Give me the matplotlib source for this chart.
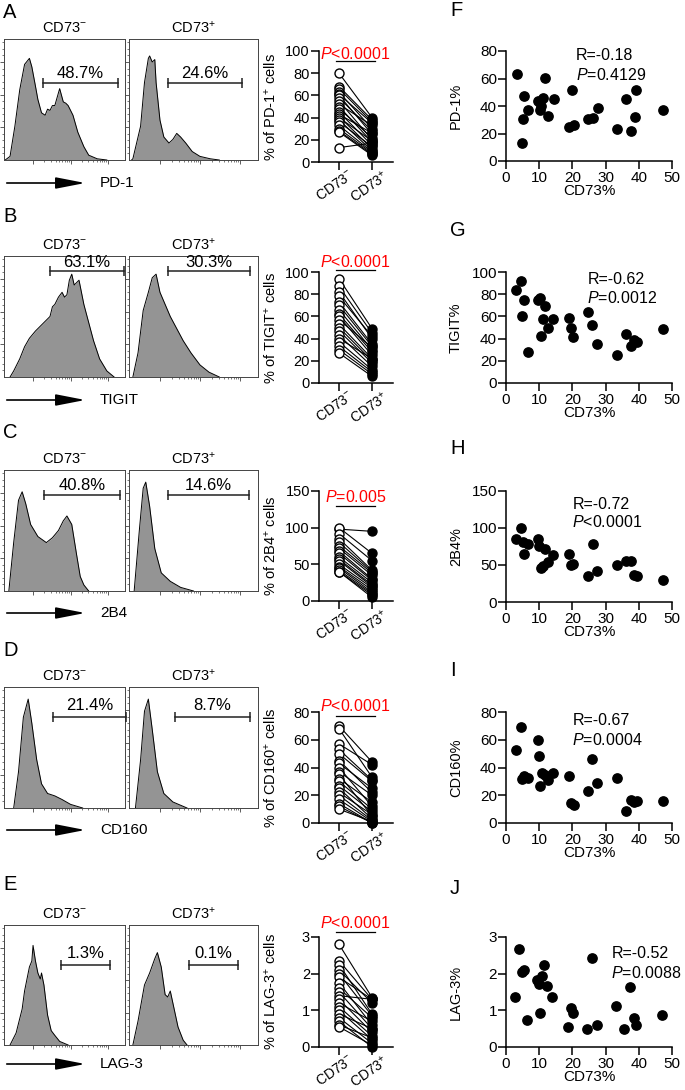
import numpy as np
import matplotlib
matplotlib.use('Agg')
import matplotlib.pyplot as plt
from matplotlib.lines import Line2D
from matplotlib.patches import FancyArrowPatch
from matplotlib.transforms import ScaledTranslation

plt.rcParams['font.family'] = ['Liberation Sans', 'DejaVu Sans']
plt.rcParams['mathtext.fontset'] = 'custom'
plt.rcParams['mathtext.rm'] = 'Liberation Sans'
plt.rcParams['mathtext.it'] = 'Liberation Sans:italic'
plt.rcParams['mathtext.bf'] = 'Liberation Sans:bold'

# ---- data ----
markers = ['PD-1', 'TIGIT', '2B4', 'CD160', 'LAG-3']
left_letters = ['A', 'B', 'C', 'D', 'E']
right_letters = ['F', 'G', 'H', 'I', 'J']
pct_neg = ['48.7%', '63.1%', '40.8%', '21.4%', '1.3%']
pct_pos = ['24.6%', '30.3%', '14.6%', '8.7%', '0.1%']
p_paired = ['<0.0001', '<0.0001', '=0.005', '<0.0001', '<0.0001']
r_vals = ['-0.18', '-0.62', '-0.72', '-0.67', '-0.52']
p_corr = ['=0.4129', '=0.0012', '<0.0001', '=0.0004', '=0.0088']

# histogram outlines (x, height) as fraction of the box
hist_pd1_neg = [(0.01, 0), (0.05, 0.03), (0.09, 0.28), (0.13, 0.58), (0.17, 0.79), (0.21, 0.84),
                (0.23, 0.77), (0.26, 0.61), (0.28, 0.50), (0.31, 0.39), (0.34, 0.37), (0.36, 0.42),
                (0.38, 0.41), (0.40, 0.45), (0.42, 0.45), (0.44, 0.52), (0.46, 0.59), (0.49, 0.48),
                (0.51, 0.47), (0.53, 0.45), (0.57, 0.37), (0.61, 0.23), (0.66, 0.11), (0.70, 0.04),
                (0.77, 0.01), (0.85, 0)]
hist_pd1_pos = [(0.02, 0), (0.03, 0.01), (0.09, 0.28), (0.12, 0.64), (0.15, 0.84), (0.16, 0.86),
                (0.18, 0.81), (0.20, 0.83), (0.21, 0.64), (0.24, 0.33), (0.27, 0.19), (0.31, 0.14),
                (0.34, 0.17), (0.37, 0.22), (0.40, 0.19), (0.44, 0.14), (0.49, 0.07), (0.55, 0.03),
                (0.63, 0.01), (0.70, 0)]
hist_tigit_neg = [(0.05, 0), (0.08, 0.05), (0.13, 0.15), (0.17, 0.25), (0.21, 0.32), (0.26, 0.38),
                  (0.30, 0.42), (0.34, 0.46), (0.38, 0.50), (0.40, 0.58), (0.42, 0.60), (0.45, 0.66),
                  (0.48, 0.70), (0.50, 0.66), (0.52, 0.68), (0.54, 0.80), (0.56, 0.85), (0.58, 0.76),
                  (0.60, 0.78), (0.62, 0.80), (0.64, 0.70), (0.66, 0.60), (0.70, 0.45), (0.74, 0.30),
                  (0.79, 0.15), (0.85, 0.05), (0.91, 0)]
hist_tigit_pos = [(0.03, 0), (0.07, 0.20), (0.11, 0.55), (0.15, 0.70), (0.18, 0.82), (0.21, 0.85),
                  (0.24, 0.70), (0.28, 0.60), (0.32, 0.50), (0.36, 0.42), (0.42, 0.30), (0.48, 0.20),
                  (0.55, 0.10), (0.62, 0.04), (0.70, 0)]
hist_2b4_neg = [(0.04, 0), (0.08, 0.40), (0.12, 0.75), (0.15, 0.82), (0.18, 0.72), (0.22, 0.55),
                (0.28, 0.45), (0.35, 0.40), (0.40, 0.44), (0.45, 0.50), (0.49, 0.58), (0.52, 0.62),
                (0.56, 0.55), (0.60, 0.30), (0.63, 0.12), (0.66, 0.05), (0.70, 0)]
hist_2b4_pos = [(0.04, 0), (0.08, 0.50), (0.11, 0.85), (0.13, 0.90), (0.16, 0.70), (0.20, 0.35),
                (0.25, 0.15), (0.32, 0.08), (0.40, 0.03), (0.50, 0)]
hist_cd160_neg = [(0.08, 0), (0.12, 0.30), (0.16, 0.75), (0.20, 0.90), (0.23, 0.70), (0.27, 0.40),
                  (0.31, 0.20), (0.36, 0.12), (0.42, 0.10), (0.48, 0.07), (0.55, 0.03), (0.65, 0)]
hist_cd160_pos = [(0.05, 0), (0.09, 0.40), (0.12, 0.80), (0.15, 0.90), (0.18, 0.65), (0.22, 0.30),
                  (0.27, 0.12), (0.34, 0.05), (0.45, 0)]
hist_lag3_neg = [(0.05, 0), (0.10, 0.10), (0.15, 0.30), (0.17, 0.45), (0.21, 0.65), (0.23, 0.70),
                 (0.24, 0.83), (0.26, 0.70), (0.28, 0.60), (0.30, 0.55), (0.31, 0.60), (0.33, 0.50),
                 (0.36, 0.25), (0.39, 0.12), (0.42, 0.08), (0.46, 0.03), (0.53, 0)]
hist_lag3_pos = [(0.03, 0), (0.07, 0.20), (0.12, 0.50), (0.16, 0.60), (0.20, 0.72), (0.22, 0.77),
                 (0.25, 0.65), (0.28, 0.42), (0.30, 0.40), (0.32, 0.45), (0.34, 0.35), (0.38, 0.15),
                 (0.42, 0.04), (0.45, 0)]

# paired CD73- / CD73+ values
pd1_neg = [80, 68, 66, 63, 61, 60, 58, 55, 52, 50, 48, 45, 43, 41, 40, 38, 36, 33, 30, 28, 27, 13]
pd1_pos = [40, 38, 36, 30, 35, 25, 28, 20, 33, 18, 22, 15, 26, 12, 19, 10, 14, 9, 8, 7, 6, 17]
tigit_neg = [94, 87, 82, 78, 73, 70, 66, 62, 60, 57, 53, 50, 47, 43, 40, 37, 33, 30, 27]
tigit_pos = [49, 45, 40, 42, 35, 33, 30, 28, 25, 32, 22, 20, 18, 15, 22, 12, 10, 8, 6]
b24_neg = [98, 100, 92, 85, 80, 75, 72, 68, 65, 60, 57, 55, 50, 47, 45, 42, 40, 40]
b24_pos = [95, 65, 55, 42, 40, 38, 35, 30, 28, 25, 22, 20, 18, 15, 12, 10, 8, 5]
cd160_neg = [70, 68, 57, 53, 50, 45, 43, 40, 37, 35, 32, 30, 27, 25, 22, 20, 17, 14, 12, 10]
cd160_pos = [44, 33, 42, 31, 30, 22, 25, 12, 20, 5, 15, 10, 8, 3, 6, 2, 1, 0, 0, 1]
lag3_neg = [2.8, 2.35, 2.25, 2.1, 2.0, 1.9, 1.75, 1.6, 1.5, 1.4, 1.3, 1.2, 1.1, 1.0, 0.9, 0.8, 0.7, 0.6, 0.55]
lag3_pos = [1.35, 1.3, 0.9, 1.2, 0.85, 1.3, 0.6, 0.8, 0.5, 1.3, 0.4, 0.7, 0.3, 0.2, 0.5, 0.1, 0.0, 0.25, 0.05]

# correlation with CD73%
pd1_x = [3.2, 4.7, 5.0, 5.5, 6.7, 9.7, 10.2, 10.4, 11.2, 11.7, 12.7, 14.4, 18.9, 19.9, 20.4, 24.7,
         26.3, 27.6, 33.5, 36.1, 37.6, 38.8, 39.3, 47.3]
pd1_y = [63, 13, 30.6, 47, 37, 44, 37, 40, 46, 60.5, 33, 45, 24.6, 51.6, 26, 30.6, 31.6, 38.3, 23,
         45, 22, 32.3, 51.6, 37]
tigit_x = [3.0, 4.4, 5.4, 4.9, 6.5, 9.7, 10.2, 10.4, 11.0, 11.7, 12.7, 14.2, 18.9, 19.7, 20.2, 24.7,
           26.0, 27.5, 33.3, 36.0, 37.5, 38.5, 39.5, 47.3]
tigit_y = [84, 92, 74.5, 60, 27.6, 74.5, 76.6, 42.6, 57.7, 69, 49.5, 57.7, 58.6, 49.5, 41.4, 64,
           52.6, 35, 25.5, 44.4, 33, 38.4, 36.6, 49]
b24_x = [3.0, 4.4, 5.0, 5.4, 6.7, 9.7, 10.0, 10.4, 11.2, 11.7, 12.7, 14.2, 18.9, 19.7, 20.2, 24.7,
         26.3, 27.5, 33.3, 36.0, 37.5, 38.5, 39.5, 47.3]
b24_y = [85, 100, 81, 65.5, 79, 84.5, 75.5, 46.5, 48.4, 71.4, 54, 64, 65.5, 49.7, 52, 35.2, 79,
         41.6, 49.7, 55.6, 55.6, 36, 35.2, 29.4]
cd160_x = [3.0, 4.4, 4.7, 5.5, 6.7, 9.7, 10.0, 10.2, 10.9, 11.7, 12.7, 14.2, 18.9, 19.7, 20.4, 24.7,
           26.0, 27.5, 33.3, 36.0, 37.5, 38.5, 39.5, 47.3]
cd160_y = [52.9, 69.2, 32, 33.9, 32.7, 59.6, 48, 26.7, 36.3, 34.4, 31.2, 36.3, 33.6, 14.4, 12.7, 23,
           46.4, 28.8, 32.4, 8.6, 16.3, 15.1, 15.9, 15.6]
lag3_x = [2.7, 4.0, 4.7, 5.4, 6.4, 9.4, 9.9, 10.2, 10.7, 11.4, 12.4, 14.0, 18.7, 19.5, 20.2, 24.4,
          26.0, 27.3, 33.1, 35.6, 37.3, 38.5, 39.1, 47.0]
lag3_y = [1.36, 2.67, 2.05, 2.10, 0.74, 1.83, 1.72, 0.92, 1.94, 2.23, 1.67, 1.36, 0.54, 1.06, 0.94,
          0.49, 2.43, 0.59, 1.12, 0.49, 1.63, 0.79, 0.59, 0.86]

hists = [(hist_pd1_neg, hist_pd1_pos), (hist_tigit_neg, hist_tigit_pos), (hist_2b4_neg, hist_2b4_pos),
         (hist_cd160_neg, hist_cd160_pos), (hist_lag3_neg, hist_lag3_pos)]
paired = [(pd1_neg, pd1_pos), (tigit_neg, tigit_pos), (b24_neg, b24_pos),
          (cd160_neg, cd160_pos), (lag3_neg, lag3_pos)]
scatters = [(pd1_x, pd1_y), (tigit_x, tigit_y), (b24_x, b24_y), (cd160_x, cd160_y), (lag3_x, lag3_y)]
y_ticks = [[0, 20, 40, 60, 80, 100], [0, 20, 40, 60, 80, 100], [0, 50, 100, 150],
           [0, 20, 40, 60, 80], [0, 1, 2, 3]]
scatter_ticks = [[0, 20, 40, 60, 80], [0, 20, 40, 60, 80, 100], [0, 50, 100, 150],
                 [0, 20, 40, 60, 80], [0, 1, 2, 3]]

# ---- layout (pixels, top origin) ----
W, H = 685, 1090
hist_top = [39, 256, 470, 687, 925]
hist_bot = [160, 377, 591, 808, 1045]
pair_top = [51, 272, 491, 712, 937]
pair_bot = [162, 383, 601, 823, 1047]
scat_top = [51, 272, 491, 712, 937]
scat_bot = [161, 383, 602, 823, 1047]
xlab_gap = 23
arrow_y = [183, 400, 613, 830, 1064]
letter_yl = [13, 217, 433, 650, 885]
letter_yr = [11, 230, 448, 670, 888]
pct_y = [73, 262, 485, 705, 953]
bar_y = [83, 271, 495, 717, 965]
neg_bar = [(43, 118), (50, 124), (44, 120), (53, 126), (61, 110)]
pos_bar = [(168, 242), (168, 250), (168, 249), (175, 250), (189, 238)]
line_fr = [0.91, 1.015, 0.864, 0.964, 1.048]
ptxt_fr = [0.977, 1.093, 0.948, 1.054, 1.125]
rtxt_x = [0.42, 0.49, 0.40, 0.40, 0.635]
rtxt_y = [(0.96, 0.78), (0.93, 0.77), (0.88, 0.72), (0.925, 0.75), (0.85, 0.67)]


def fx(px):
    return px / W


def fy(py):
    return 1 - py / H


fig = plt.figure(figsize=(6.85, 10.9), dpi=100)


def add_ax(l, t, r, b):
    return fig.add_axes([fx(l), fy(b), (r - l) / W, (b - t) / H])


def prism_axes(ax, size):
    for s in ['top', 'right']:
        ax.spines[s].set_visible(False)
    for s in ['left', 'bottom']:
        ax.spines[s].set_linewidth(1.1)
    ax.tick_params(direction='out', length=5.5, width=1.1, labelsize=size, pad=1)


minor_x = []
for dec in [0.24, 0.55]:
    minor_x += [dec + 0.31 * np.log10(k) for k in range(2, 10)]

for i in range(5):
    # histograms
    boxes = [(4, 125), (129, 258)]
    for j, (l, r) in enumerate(boxes):
        ax = add_ax(l, hist_top[i], r, hist_bot[i])
        pts = np.array(hists[i][j])
        ax.fill_between(pts[:, 0], pts[:, 1], color='#949494', lw=0)
        ax.plot(pts[:, 0], pts[:, 1], color='k', lw=0.7)
        ax.set_xlim(0, 1)
        ax.set_ylim(0, 1)
        for s in ax.spines.values():
            s.set_linewidth(0.7)
            s.set_color('#444444')
        ax.set_yticks([0.27, 0.54, 0.81])
        ax.set_yticks(np.arange(0.054, 1, 0.054), minor=True)
        ax.set_xticks([0.24, 0.55, 0.86])
        ax.set_xticks(minor_x, minor=True)
        ax.tick_params(which='major', direction='out', length=3, width=0.6, color='#444444',
                       labelleft=False, labelbottom=False)
        ax.tick_params(which='minor', direction='out', length=1.5, width=0.5, color='#444444')
        title = 'CD73$^{-}$' if j == 0 else 'CD73$^{+}$'
        fig.text(fx((l + r) / 2), fy(hist_top[i] - 11), title, ha='center', va='center', fontsize=10.5)

    for (x0, x1), txt in [(neg_bar[i], pct_neg[i]), (pos_bar[i], pct_pos[i])]:
        fig.add_artist(Line2D([fx(x0), fx(x1)], [fy(bar_y[i])] * 2, color='#222222', lw=1.1,
                              marker='|', markersize=7, markeredgewidth=1.1))
        fig.text(fx((x0 + x1) / 2), fy(pct_y[i]), txt, ha='center', va='center', fontsize=12)

    fig.add_artist(FancyArrowPatch((fx(4), fy(arrow_y[i])), (fx(88), fy(arrow_y[i])),
                                   transform=fig.transFigure,
                                   arrowstyle='-|>,head_length=1.8,head_width=0.35',
                                   mutation_scale=10, lw=1.2, color='k'))
    fig.text(fx(100), fy(arrow_y[i]), markers[i], ha='left', va='center', fontsize=11)
    fig.text(fx(3), fy(letter_yl[i]), left_letters[i], ha='left', va='center', fontsize=14.5)
    fig.text(fx(450), fy(letter_yr[i]), right_letters[i], ha='left', va='center', fontsize=14.5)

    # paired plot
    ax = add_ax(319, pair_top[i], 393, pair_bot[i])
    prism_axes(ax, 10.5)
    neg, pos = paired[i]
    for a, b in zip(neg, pos):
        ax.plot([0, 1], [a, b], color='k', lw=0.8, zorder=1, clip_on=False)
    ax.scatter(np.zeros(len(neg)), neg, s=42, facecolor='white', edgecolor='k', lw=1.0, zorder=3,
               clip_on=False)
    ax.scatter(np.ones(len(pos)), pos, s=42, facecolor='k', edgecolor='k', lw=1.0, zorder=3,
               clip_on=False)
    ymax = y_ticks[i][-1]
    ax.set_ylim(0, ymax)
    ax.set_xlim(-0.606, 1.636)
    ax.set_yticks(y_ticks[i])
    ax.set_xticks([0, 1])
    ax.set_xticklabels(['CD73$^{-}$', 'CD73$^{+}$'], rotation=35, ha='right', va='top',
                       rotation_mode='anchor', fontsize=10)
    ax.tick_params(axis='x', pad=0.5)
    for lab in ax.get_xticklabels():
        lab.set_transform(lab.get_transform() + ScaledTranslation(10 / 100, 3 / 100, fig.dpi_scale_trans))
    ax.set_ylabel('% of ' + markers[i] + '$^{+}$ cells', fontsize=10.5)
    ax.yaxis.set_label_coords(-0.55, 0.5)
    ax.plot([-0.1, 1.1], [line_fr[i] * ymax] * 2, color='k', lw=0.9, clip_on=False)
    ax.text(0.5, ptxt_fr[i] * ymax, r'$\mathit{P}$' + p_paired[i], color='#ff0000', ha='center',
            va='center', fontsize=11.5, clip_on=False)

    # correlation plot
    ax = add_ax(506, scat_top[i], 672, scat_bot[i])
    prism_axes(ax, 11)
    ax.tick_params(axis='x', pad=2)
    sx, sy = scatters[i]
    ax.scatter(sx, sy, s=45, color='k', zorder=3, clip_on=False)
    ax.set_xlim(0, 50)
    ax.set_xticks([0, 10, 20, 30, 40, 50])
    ax.set_ylim(0, scatter_ticks[i][-1])
    ax.set_yticks(scatter_ticks[i])
    ax.set_ylabel(markers[i] + '%', fontsize=10.5)
    ax.yaxis.set_label_coords(-0.26, 0.5)
    ax.set_xlabel('CD73%', fontsize=11)
    ax.xaxis.set_label_coords(0.5, -xlab_gap / (scat_bot[i] - scat_top[i]))
    ax.text(rtxt_x[i], rtxt_y[i][0], 'R=' + r_vals[i], transform=ax.transAxes, ha='left', va='center',
            fontsize=11.5)
    ax.text(rtxt_x[i], rtxt_y[i][1], r'$\mathit{P}$' + p_corr[i], transform=ax.transAxes, ha='left',
            va='center', fontsize=11.5)

fig.savefig('out.png', dpi=100)
